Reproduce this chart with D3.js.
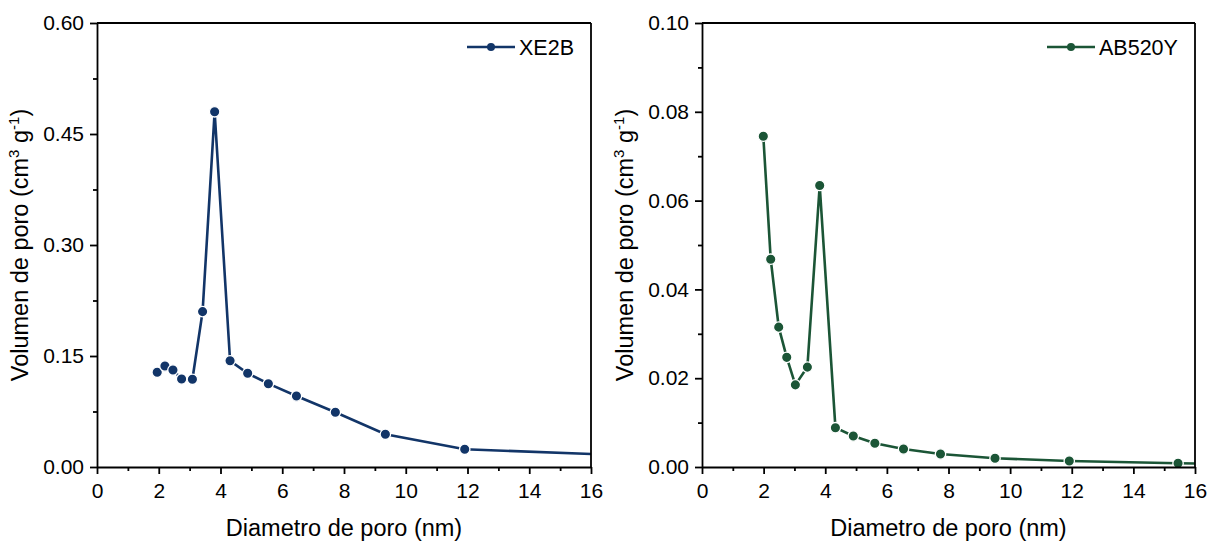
<!DOCTYPE html>
<meta charset="utf-8">
<style>
body { margin: 0; background: white; }
text { font-family: "Liberation Sans", Arial, sans-serif; fill: black; }
.domain, .tick line { stroke: black; stroke-width: 1.8px; }
</style>
<body>
<script src="https://d3js.org/d3.v7.min.js"></script>
<script>
var width = 1208,
    height = 543;

// XE2B (left panel)
var xe2bDiam = [1.95, 2.20, 2.46, 2.74, 3.09, 3.42, 3.81, 4.31, 4.88, 5.55, 6.46, 7.72, 9.34, 11.91, 18.5];
var xe2bVol  = [0.128, 0.1365, 0.131, 0.119, 0.1185, 0.210, 0.480, 0.1436, 0.1266, 0.1126, 0.096, 0.0739, 0.0442, 0.0239, 0.0137];

// AB520Y (right panel)
var ab520Diam = [1.99, 2.23, 2.49, 2.75, 3.03, 3.42, 3.82, 4.33, 4.91, 5.61, 6.54, 7.74, 9.51, 11.92, 15.45, 19.5];
var ab520Vol  = [0.0745, 0.0468, 0.0315, 0.0247, 0.0185, 0.0225, 0.0634, 0.00885, 0.00698, 0.00534, 0.00405, 0.00293, 0.00196, 0.00135, 0.00083, 0.0006];

var xTicks = [0, 2, 4, 6, 8, 10, 12, 14, 16];
var xMinor = [1, 3, 5, 7, 9, 11, 13, 15];
var leftYTicks = [0, 0.15, 0.30, 0.45, 0.60];
var leftYMinor = [0.075, 0.225, 0.375, 0.525];
var rightYTicks = [0, 0.02, 0.04, 0.06, 0.08, 0.10];
var rightYMinor = [0.01, 0.03, 0.05, 0.07, 0.09];

var svg = d3.select("body").append("svg")
    .attr("width", width)
    .attr("height", height);

function panel(o) {
  var x = d3.scaleLinear().domain([0, 16]).range([o.x0, o.x1]);
  var y = d3.scaleLinear().domain([0, o.ymax]).range([467, 23]);
  var g = svg.append("g");

  g.append("clipPath").attr("id", o.id)
    .append("rect")
    .attr("x", o.x0).attr("y", 23)
    .attr("width", o.x1 - o.x0).attr("height", 467 - 23);

  var pts = o.xs.map(function(d, i) { return [d, o.ys[i]]; });

  var plot = g.append("g").attr("clip-path", "url(#" + o.id + ")");
  plot.append("path")
    .datum(pts)
    .attr("fill", "none")
    .attr("stroke", o.color)
    .attr("stroke-width", 2.6)
    .attr("d", d3.line().x(function(d) { return x(d[0]); }).y(function(d) { return y(d[1]); }));
  plot.selectAll("circle")
    .data(pts)
    .enter().append("circle")
    .attr("cx", function(d) { return x(d[0]); })
    .attr("cy", function(d) { return y(d[1]); })
    .attr("r", 5.2)
    .attr("fill", o.color)
    .attr("stroke", "white")
    .attr("stroke-width", 1.3);

  // box
  g.append("line").attr("x1", o.x0).attr("x2", o.x1).attr("y1", 23).attr("y2", 23)
    .attr("stroke", "black").attr("stroke-width", 1.8);
  g.append("line").attr("x1", o.x1).attr("x2", o.x1).attr("y1", 23).attr("y2", 467)
    .attr("stroke", "black").attr("stroke-width", 1.8);

  // minor ticks
  g.append("g").attr("transform", "translate(0,467)")
    .call(d3.axisBottom(x).tickValues(xMinor).tickSize(4).tickFormat(""))
    .select(".domain").remove();
  g.append("g").attr("transform", "translate(" + o.x0 + ",0)")
    .call(d3.axisLeft(y).tickValues(o.yMinor).tickSize(4).tickFormat(""))
    .select(".domain").remove();

  // major axes
  var xa = g.append("g").attr("transform", "translate(0,467)")
    .call(d3.axisBottom(x).tickValues(xTicks).tickSize(7).tickSizeOuter(0).tickPadding(9));
  xa.selectAll("text").style("font-size", "21px");
  var ya = g.append("g").attr("transform", "translate(" + o.x0 + ",0)")
    .call(d3.axisLeft(y).tickValues(o.yTicks).tickSize(7).tickSizeOuter(0).tickPadding(6).tickFormat(d3.format(".2f")));
  ya.selectAll("text").style("font-size", "21px");

  // titles
  g.append("text")
    .attr("x", (o.x0 + o.x1) / 2).attr("y", 536)
    .attr("text-anchor", "middle")
    .style("font-size", "23.5px")
    .text("Diametro de poro (nm)");

  var yt = g.append("text")
    .attr("transform", "translate(" + (o.x0 - 69) + ",245) rotate(-90)")
    .attr("text-anchor", "middle")
    .style("font-size", "23.5px");
  yt.append("tspan").text("Volumen de poro (cm");
  yt.append("tspan").attr("dy", -9).style("font-size", "15px").text("3");
  yt.append("tspan").attr("dy", 9).text(" g");
  yt.append("tspan").attr("dy", -9).style("font-size", "15px").text("-1");
  yt.append("tspan").attr("dy", 9).text(")");

  // legend
  g.append("line").attr("x1", o.lx).attr("x2", o.lx + 48).attr("y1", 47).attr("y2", 47)
    .attr("stroke", o.color).attr("stroke-width", 2.6);
  g.append("circle").attr("cx", o.lx + 24).attr("cy", 47).attr("r", 4)
    .attr("fill", o.color);
  g.append("text").attr("x", o.lx + 52).attr("y", 55)
    .style("font-size", "21.5px")
    .text(o.name);
}

panel({id: "clipL", x0: 97, x1: 591, ymax: 0.6, xs: xe2bDiam, ys: xe2bVol,
       yTicks: leftYTicks, yMinor: leftYMinor, color: "#123568", name: "XE2B", lx: 467});
panel({id: "clipR", x0: 702, x1: 1195, ymax: 0.1, xs: ab520Diam, ys: ab520Vol,
       yTicks: rightYTicks, yMinor: rightYMinor, color: "#1b5536", name: "AB520Y", lx: 1047});
</script>
</body>
